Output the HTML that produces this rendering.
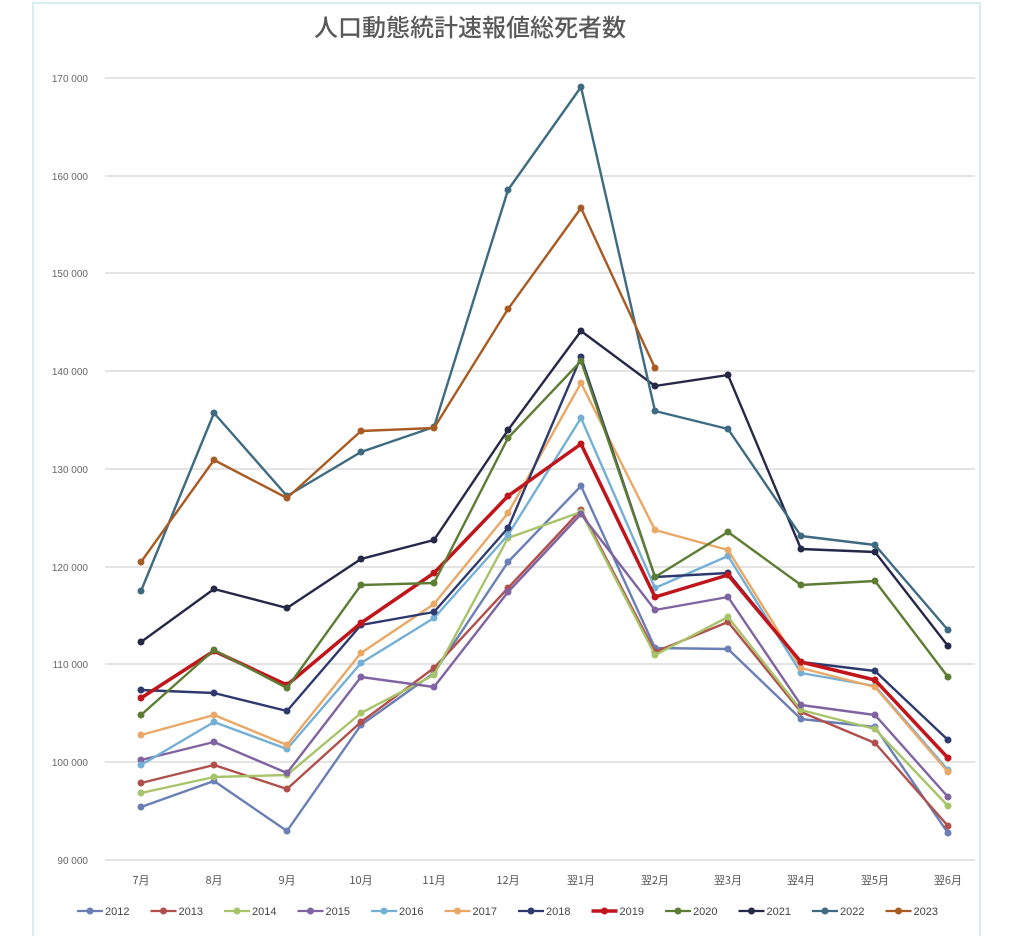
<!DOCTYPE html>
<html><head><meta charset="utf-8"><style>
html,body{margin:0;padding:0;background:#fff;}
svg{display:block;font-family:"Liberation Sans","Noto Sans CJK JP",sans-serif;}
</style></head><body>
<svg width="1024" height="936" viewBox="0 0 1024 936" xmlns="http://www.w3.org/2000/svg">
<rect x="33" y="3" width="947" height="940" fill="#fff" stroke="#d6eef2" stroke-width="2"/>
<text x="470" y="36" font-size="24" font-weight="500" fill="#595959" text-anchor="middle" font-family="'Noto Sans CJK JP',sans-serif">人口動態統計速報値総死者数</text>
<g stroke="#dcdcdc" stroke-width="1.5">
<line x1="105" x2="975" y1="78" y2="78"/><line x1="105" x2="975" y1="176" y2="176"/>
<line x1="105" x2="975" y1="273" y2="273"/><line x1="105" x2="975" y1="371" y2="371"/>
<line x1="105" x2="975" y1="469" y2="469"/><line x1="105" x2="975" y1="567" y2="567"/>
<line x1="105" x2="975" y1="664" y2="664"/><line x1="105" x2="975" y1="762" y2="762"/>
<line x1="105" x2="975" y1="860" y2="860"/>
</g>
<g font-size="10" fill="#666" text-anchor="end">
<text x="88" y="82">170 000</text><text x="88" y="180">160 000</text><text x="88" y="277">150 000</text>
<text x="88" y="375">140 000</text><text x="88" y="473">130 000</text><text x="88" y="571">120 000</text>
<text x="88" y="668">110 000</text><text x="88" y="766">100 000</text><text x="88" y="864">90 000</text>
</g>
<g font-size="11" fill="#555" text-anchor="middle" font-family="'Noto Sans CJK JP',sans-serif">
<text x="141" y="884">7月</text><text x="214" y="884">8月</text><text x="287" y="884">9月</text>
<text x="361" y="884">10月</text><text x="434" y="884">11月</text><text x="508" y="884">12月</text>
<text x="581" y="884">翌1月</text><text x="655" y="884">翌2月</text><text x="728" y="884">翌3月</text>
<text x="801" y="884">翌4月</text><text x="875" y="884">翌5月</text><text x="948" y="884">翌6月</text>
</g>
<g id="series" fill="none" stroke-width="2.4" stroke-linejoin="round"></g>
<g id="legend" font-size="11" fill="#444"></g>
</svg>
<script>
var X=[141,214,287,361,434,508,581,655,728,801,875,948];
var S=[
["2012","#6a7fb5",[807,781,831,725,673,562,486,648,649,719,727,833]],
["2013","#b0504d",[783,765,789,722,668,588,510,652,622,712,743,826]],
["2014","#a8c46a",[793,777,775,713,675,538,512,655,617,710,729,806]],
["2015","#7f64a1",[760,742,773,677,687,592,514,610,597,705,715,797]],
["2016","#74b0d6",[765,722,749,663,618,535,418,588,556,673,686,770]],
["2017","#eaa866",[735,715,745,653,604,513,383,530,550,668,687,772]],
["2018","#2e3a6e",[690,693,711,625,612,528,357,577,573,662,671,740]],
["2019","#c0151a",[698,651,685,623,573,496,444,597,575,662,680,758]],
["2020","#5e7d34",[715,650,688,585,583,438,361,577,532,585,581,677]],
["2021","#262848",[642,589,608,559,540,430,331,386,375,549,552,646]],
["2022","#3e6b82",[591,413,496,452,427,190,87,411,429,536,545,630]],
["2023","#a85b22",[562,460,498,431,428,309,208,368]]
];
var ns="http://www.w3.org/2000/svg",g=document.getElementById("series"),lg=document.getElementById("legend");
S.forEach(function(s,i){
 var pts=s[2].map(function(y,j){return X[j]+","+y}).join(" ");
 var p=document.createElementNS(ns,"polyline");p.setAttribute("points",pts);p.setAttribute("stroke",s[1]);
 if(s[0]=="2019")p.setAttribute("stroke-width","3.5");g.appendChild(p);
 s[2].forEach(function(y,j){var c=document.createElementNS(ns,"circle");c.setAttribute("cx",X[j]);c.setAttribute("cy",y);c.setAttribute("r","3.5");c.setAttribute("fill",s[1]);c.setAttribute("stroke","none");g.appendChild(c);});
 var lx=77+i*73.5,ly=911;
 var l=document.createElementNS(ns,"line");l.setAttribute("x1",lx);l.setAttribute("x2",lx+26);l.setAttribute("y1",ly);l.setAttribute("y2",ly);l.setAttribute("stroke",s[1]);l.setAttribute("stroke-width",s[0]=="2019"?"3.5":"2.2");lg.appendChild(l);
 var c=document.createElementNS(ns,"circle");c.setAttribute("cx",lx+13);c.setAttribute("cy",ly);c.setAttribute("r","3.5");c.setAttribute("fill",s[1]);lg.appendChild(c);
 var t=document.createElementNS(ns,"text");t.setAttribute("x",lx+28);t.setAttribute("y",ly+4);t.textContent=s[0];lg.appendChild(t);
});
</script>
</body></html>
